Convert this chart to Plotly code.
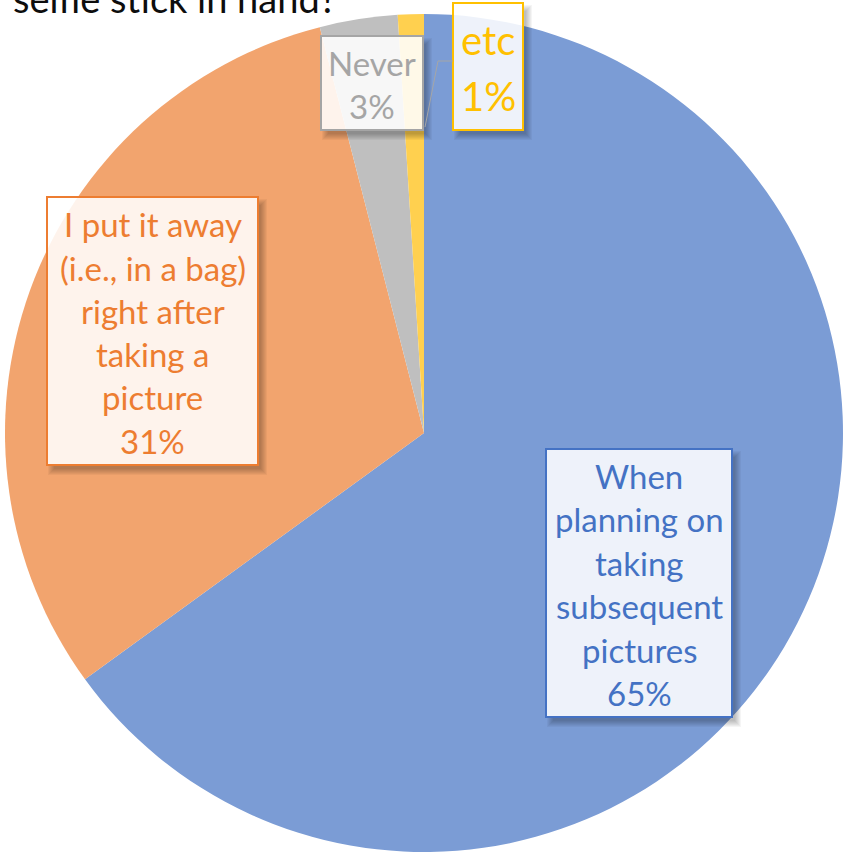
import math
import plotly.graph_objects as go

# ---- data ----
categories = [
    "When planning on taking subsequent pictures",
    "I put it away (i.e., in a bag) right after taking a picture",
    "Never",
    "etc",
]
values = [65, 31, 3, 1]
label_lines = [
    ["When", "planning on", "taking", "subsequent", "pictures"],
    ["I put it away", "(i.e., in a bag)", "right after", "taking a", "picture"],
    ["Never"],
    ["etc"],
]
title_text = "selfie stick in hand?"

# ---- styling ----
W, H = 843, 853
slice_colors = ["#7B9CD5", "#F2A46E", "#BFBFBF", "#FFD04F"]
accent_colors = ["#4472C4", "#ED7D31", "#A5A5A5", "#FFC000"]
FONT = "Lato"

# callout boxes in pixels: (left, top, right, bottom), font size, line pitch
callouts = [
    dict(box=(546, 449, 732, 717), size=33, pitch=43.4),
    dict(box=(47, 197, 258, 465), size=33, pitch=43.3),
    dict(box=(321, 36, 423, 130), size=33, pitch=43.0),
    dict(box=(453, 3, 523, 130), size=40, pitch=56.0),
]

# pie placement in pixels
CX, CY, R = 424, 433, 419


def px(x):
    return x / W


def py(y):
    return 1 - y / H


fig = go.Figure(
    go.Pie(
        labels=categories,
        values=values,
        sort=False,
        direction="clockwise",
        rotation=0,
        marker=dict(colors=slice_colors, line=dict(width=0)),
        textinfo="none",
        hoverinfo="label+percent",
        showlegend=False,
        domain=dict(x=[px(CX - R), px(CX + R)], y=[py(CY + R), py(CY - R)]),
    )
)

shapes = []
annotations = []
total = sum(values)

for i, (lines, c) in enumerate(zip(label_lines, callouts)):
    l, t, r, b = c["box"]
    # soft drop shadow along the right and bottom edges (outside the box)
    for k in range(7):
        dx, dy = 3, 4
        pts = [
            (r, t + dy - k + 4), (r + dx + k, t + dy - k + 4),
            (r + dx + k, b + dy + k), (l + dx - k + 4, b + dy + k),
            (l + dx - k + 4, b), (r, b),
        ]
        path = "M " + " L ".join(f"{px(a)} {py(bb)}" for a, bb in pts) + " Z"
        shapes.append(dict(
            type="path", xref="paper", yref="paper", layer="above",
            path=path, line=dict(width=0), fillcolor="rgba(0,0,0,0.04)",
        ))
    shapes.append(dict(
        type="rect", xref="paper", yref="paper", layer="above",
        x0=px(l), x1=px(r), y0=py(b), y1=py(t),
        line=dict(color=accent_colors[i], width=2),
        fillcolor="rgba(255,255,255,0.87)",
    ))
    pct = f"{round(values[i] / total * 100)}%"
    all_lines = lines + [pct]
    n = len(all_lines)
    cy = (t + b) / 2 + 1.5
    cx = (l + r) / 2
    for j, txt in enumerate(all_lines):
        yy = cy + (j - (n - 1) / 2) * c["pitch"]
        annotations.append(dict(
            text=txt, x=px(cx), y=py(yy), xref="paper", yref="paper",
            xanchor="center", yanchor="middle", showarrow=False,
            font=dict(family=FONT, size=c["size"], color=accent_colors[i]),
        ))

# leader line from the "etc" callout to the edge of its slice
end_angle = 360.0  # clockwise end of the last slice
ex = CX + 0.73 * R * math.sin(math.radians(end_angle))
ey = CY - 0.73 * R * math.cos(math.radians(end_angle))
l3, t3, r3, b3 = callouts[3]["box"]
shapes.append(dict(
    type="path", xref="paper", yref="paper", layer="above",
    path=f"M {px(l3)} {py(61)} L {px(l3 - 15)} {py(61)} L {px(ex + 1)} {py(ey)}",
    line=dict(color="#A6A6A6", width=1),
))

# title (only its last line falls inside the page)
annotations.append(dict(
    text=title_text, x=px(11), y=py(23), xref="paper", yref="paper",
    xanchor="left", yanchor="bottom", showarrow=False,
    font=dict(family=FONT, size=38, color="#0d0d0d"),
))

fig.update_layout(
    width=W, height=H,
    margin=dict(l=0, r=0, t=0, b=0),
    paper_bgcolor="white", plot_bgcolor="white",
    shapes=shapes, annotations=annotations,
    showlegend=False,
)

fig.write_html("out.html")
